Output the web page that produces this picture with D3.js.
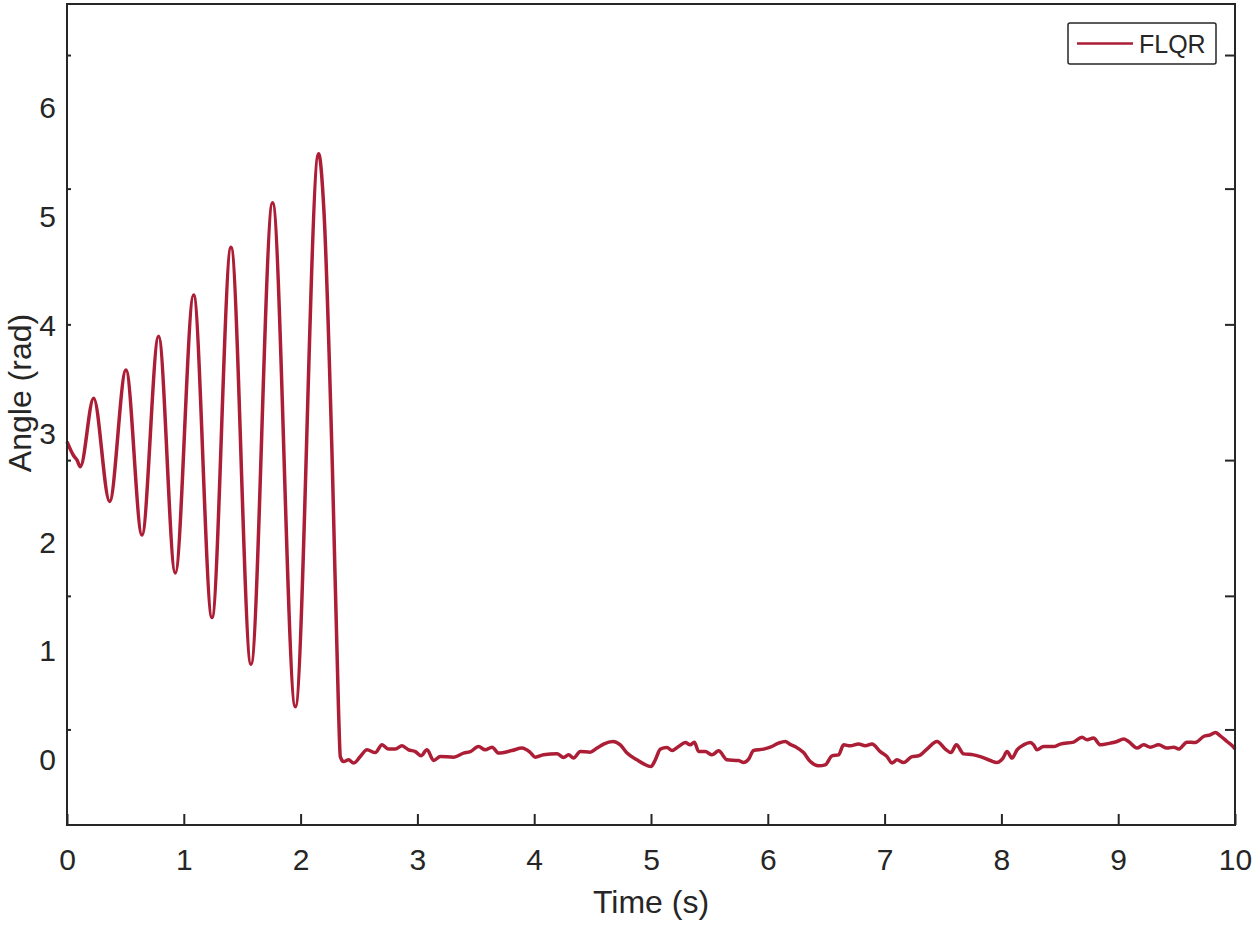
<!DOCTYPE html>
<html>
<head>
<meta charset="utf-8">
<script src="https://cdn.jsdelivr.net/npm/d3@7"></script>
<style>
  html, body { margin: 0; padding: 0; background: #fff; }
  svg { display: block; font-family: "Liberation Sans", Arial, sans-serif; }
</style>
</head>
<body>
<svg id="chart" width="1255" height="925"></svg>
<script>
// Swing-up phase (peaks / troughs)
const swingTime = [0, 0.057, 0.086, 0.114, 0.228, 0.365, 0.505, 0.642, 0.784, 0.927,
  1.084, 1.241, 1.404, 1.575, 1.760, 1.955, 2.154, 2.200, 2.272, 2.325, 2.340];
const swingAngle = [2.93, 2.80, 2.76, 2.70, 3.33, 2.38, 3.59, 2.07, 3.90, 1.72,
  4.28, 1.31, 4.72, 0.88, 5.13, 0.49, 5.58, 5.05, 2.70, 0.45, 0.03];

// Balancing phase, small noise around 0
const settleTime = [
  2.368, 2.411, 2.454, 2.511, 2.568, 2.640, 2.697, 2.753, 2.811, 2.868,
  2.925, 2.982, 3.031, 3.082, 3.139, 3.196, 3.310, 3.396, 3.453, 3.524,
  3.581, 3.639, 3.695, 3.810, 3.896, 3.967, 4.009, 4.080, 4.195, 4.252,
  4.295, 4.337, 4.395, 4.480, 4.538, 4.594, 4.675, 4.737, 4.795, 4.880,
  4.937, 5.000, 5.037, 5.080, 5.137, 5.180, 5.236, 5.294, 5.336, 5.371,
  5.408, 5.465, 5.522, 5.579, 5.651, 5.750, 5.793, 5.836, 5.878, 5.964,
  6.021, 6.092, 6.150, 6.187, 6.235, 6.306, 6.364, 6.435, 6.492, 6.550,
  6.606, 6.649, 6.706, 6.777, 6.835, 6.892, 6.963, 7.021, 7.063, 7.106,
  7.163, 7.235, 7.291, 7.363, 7.449, 7.520, 7.568, 7.614, 7.676, 7.762,
  7.819, 7.905, 7.962, 8.014, 8.048, 8.091, 8.134, 8.190, 8.248, 8.276,
  8.305, 8.361, 8.447, 8.504, 8.618, 8.690, 8.733, 8.789, 8.847, 8.932,
  8.990, 9.046, 9.089, 9.161, 9.218, 9.275, 9.346, 9.418, 9.475, 9.518,
  9.589, 9.660, 9.731, 9.789, 9.832, 9.874, 9.932, 9.988, 10.0];
const settleAngle = [
  -0.016, 0.000, -0.030, 0.030, 0.092, 0.067, 0.138, 0.099, 0.099, 0.129,
  0.092, 0.076, 0.037, 0.092, -0.006, 0.030, 0.025, 0.062, 0.076, 0.122,
  0.092, 0.117, 0.062, 0.086, 0.108, 0.067, 0.025, 0.046, 0.055, 0.021,
  0.046, 0.016, 0.076, 0.071, 0.108, 0.145, 0.169, 0.138, 0.062, 0.000,
  -0.037, -0.062, 0.000, 0.099, 0.113, 0.086, 0.122, 0.159, 0.138, 0.163,
  0.076, 0.076, 0.046, 0.083, 0.000, -0.006, -0.025, 0.006, 0.086, 0.099,
  0.117, 0.154, 0.169, 0.145, 0.122, 0.067, -0.016, -0.055, -0.046, 0.037,
  0.046, 0.138, 0.129, 0.147, 0.129, 0.145, 0.076, 0.030, -0.030, 0.000,
  -0.025, 0.030, 0.037, 0.099, 0.169, 0.099, 0.067, 0.138, 0.055, 0.046,
  0.030, -0.006, -0.025, 0.016, 0.076, 0.016, 0.092, 0.138, 0.159, 0.138,
  0.092, 0.122, 0.122, 0.145, 0.163, 0.209, 0.184, 0.200, 0.138, 0.154,
  0.169, 0.191, 0.169, 0.108, 0.138, 0.117, 0.138, 0.108, 0.117, 0.099,
  0.163, 0.159, 0.215, 0.230, 0.251, 0.221, 0.169, 0.117, 0.10];

const xTicks = [0, 1, 2, 3, 4, 5, 6, 7, 8, 9, 10];
const yLabels = [0, 1, 2, 3, 4, 5, 6];
// the tick marks in the figure do not sit on the labels
const yTickMarks = [0.28, 1.51, 2.76, 4.01, 5.26, 6.49];
const seriesName = 'FLQR';

const LINE_COLOR = '#AC1D36';
const AXIS_COLOR = '#262626';

const plot = { left: 67, right: 1235, top: 4, bottom: 825 };

const svg = d3.select('#chart');
svg.append('rect').attr('width', 1255).attr('height', 925).attr('fill', '#fff');

const x = d3.scaleLinear().domain([0, 10]).range([plot.left, plot.right]);
const y = d3.scaleLinear().domain([-0.6, 6.96]).range([plot.bottom, plot.top]);

const data = d3.zip(swingTime.concat(settleTime), swingAngle.concat(settleAngle));

// line
const line = d3.line()
  .x(d => x(d[0]))
  .y(d => y(d[1]))
  .curve(d3.curveMonotoneX);

svg.append('path')
  .datum(data)
  .attr('d', line)
  .attr('fill', 'none')
  .attr('stroke', LINE_COLOR)
  .attr('stroke-width', 3.5)
  .attr('stroke-linejoin', 'round');

// x axis (ticks pointing in)
const xAxis = svg.append('g')
  .attr('transform', `translate(0,${plot.bottom})`)
  .call(d3.axisBottom(x).tickValues(xTicks).tickSize(-11).tickPadding(24).tickFormat(d3.format('d')));

// y labels, no tick lines
const yAxis = svg.append('g')
  .attr('transform', `translate(${plot.left},0)`)
  .call(d3.axisLeft(y).tickValues(yLabels).tickSize(0).tickPadding(11).tickFormat(d3.format('d')));

// y tick marks left and right
const yMarksL = svg.append('g')
  .attr('transform', `translate(${plot.left},0)`)
  .call(d3.axisLeft(y).tickValues(yTickMarks).tickSize(-4).tickFormat(''));
const yMarksR = svg.append('g')
  .attr('transform', `translate(${plot.right},0)`)
  .call(d3.axisRight(y).tickValues(yTickMarks).tickSize(-10).tickFormat(''));

[xAxis, yAxis, yMarksL, yMarksR].forEach(g => {
  g.select('.domain').remove();
  g.selectAll('line').attr('stroke', AXIS_COLOR).attr('stroke-width', 2);
  g.selectAll('text')
    .attr('fill', AXIS_COLOR)
    .style('font-size', '30px')
    .style('font-family', '"Liberation Sans", Arial, sans-serif');
});

// frame
svg.append('rect')
  .attr('x', plot.left)
  .attr('y', plot.top)
  .attr('width', plot.right - plot.left)
  .attr('height', plot.bottom - plot.top)
  .attr('fill', 'none')
  .attr('stroke', AXIS_COLOR)
  .attr('stroke-width', 2);

// axis titles
svg.append('text')
  .attr('x', (plot.left + plot.right) / 2)
  .attr('y', 913)
  .attr('text-anchor', 'middle')
  .attr('fill', AXIS_COLOR)
  .style('font-size', '32px')
  .text('Time (s)');

svg.append('text')
  .attr('transform', 'translate(31,393) rotate(-90)')
  .attr('text-anchor', 'middle')
  .attr('fill', AXIS_COLOR)
  .style('font-size', '32px')
  .text('Angle (rad)');

// legend
const legend = svg.append('g').attr('transform', 'translate(1068,23)');
legend.append('rect')
  .attr('width', 148)
  .attr('height', 41)
  .attr('rx', 2)
  .attr('fill', '#fff')
  .attr('stroke', AXIS_COLOR)
  .attr('stroke-width', 1.5);
legend.append('line')
  .attr('x1', 9).attr('x2', 65)
  .attr('y1', 20.5).attr('y2', 20.5)
  .attr('stroke', LINE_COLOR)
  .attr('stroke-width', 2.5);
legend.append('text')
  .attr('x', 71)
  .attr('y', 29.5)
  .attr('fill', AXIS_COLOR)
  .style('font-size', '25px')
  .text(seriesName);
</script>
</body>
</html>
